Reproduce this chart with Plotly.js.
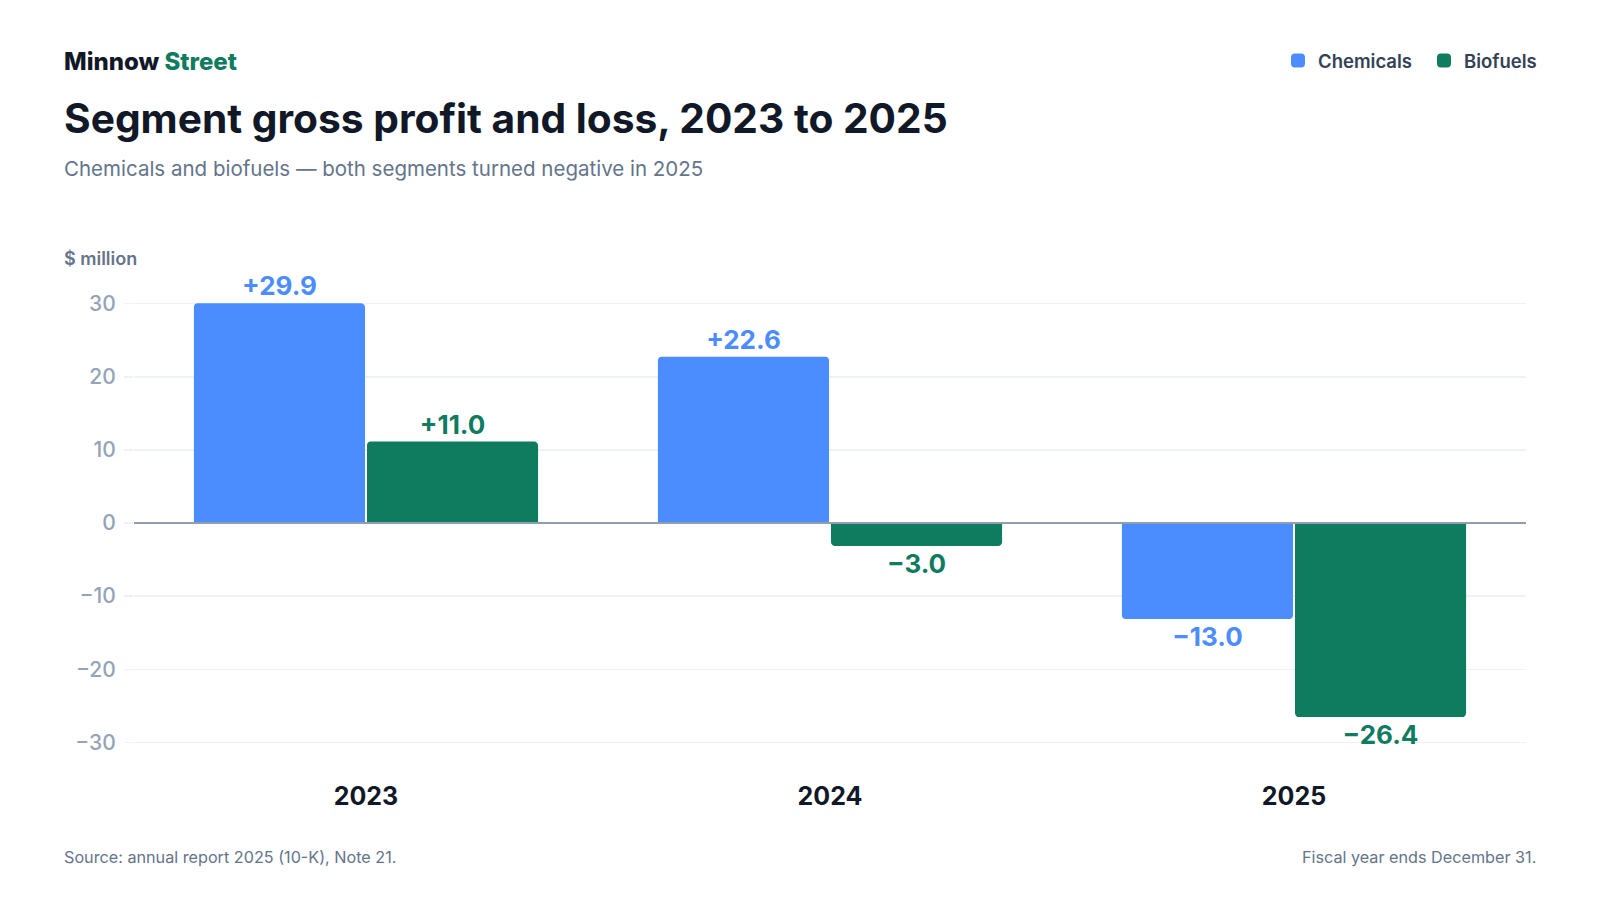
<!DOCTYPE html>
<html>
<head>
<meta charset="utf-8">
<script src="https://cdn.plot.ly/plotly-3.0.1.min.js"></script>
<style>
  html, body { margin: 0; padding: 0; background: #ffffff; }
  #chart { width: 1600px; height: 900px; }
</style>
</head>
<body>
<div id="chart"></div>
<script>
// data
const years = ["2023", "2024", "2025"];
const chemicals = [29.9, 22.6, -13.0];
const biofuels = [11.0, -3.0, -26.4];
const yTicks = [-30, -20, -10, 0, 10, 20, 30];

const blue = "#4b8dff";
const green = "#0f7b5f";

// "+29.9" / "−13.0" style labels
function signed(v) {
  return (v > 0 ? "+" : "\u2212") + Math.abs(v).toFixed(1);
}

// plot area in px, used to place the header and footer texts
const W = 1600, H = 900;
const M = { l: 134, r: 74, t: 289, b: 143 };
function px(x) { return (x - M.l) / (W - M.l - M.r); }
function py(y) { return (H - M.b - y) / (H - M.t - M.b); }

// thin outline in the bar colour, mostly so the legend swatch is a bit bigger
var trace1 = {
  type: "bar",
  name: "Chemicals",
  x: years,
  y: chemicals,
  text: chemicals.map(signed),
  textposition: "outside",
  cliponaxis: false,
  textfont: { family: "Inter", size: 26, weight: 700, color: blue },
  marker: { color: blue, line: { color: blue, width: 2 } },
  hoverinfo: "none"
};

var trace2 = {
  type: "bar",
  name: "Biofuels",
  x: years,
  y: biofuels,
  text: biofuels.map(signed),
  textposition: "outside",
  cliponaxis: false,
  textfont: { family: "Inter", size: 26, weight: 700, color: green },
  marker: { color: green, line: { color: green, width: 2 } },
  hoverinfo: "none"
};

var layout = {
  width: W,
  height: H,
  margin: M,
  paper_bgcolor: "#ffffff",
  plot_bgcolor: "#ffffff",
  font: { family: "Inter", color: "#111827" },
  barmode: "group",
  bargap: 0.254,
  bargroupgap: 0.023,
  barcornerradius: 3,
  showlegend: true,
  legend: {
    orientation: "h",
    // entrywidth pads the last item too, so the anchor sits past the text end
    x: px(1570),
    xanchor: "right",
    y: py(61),
    yanchor: "middle",
    entrywidth: 101,
    font: { family: "Inter", size: 18.5, weight: 600, color: "#334155" },
    itemclick: false,
    itemdoubleclick: false
  },
  title: {
    text: "Segment gross profit and loss, 2023 to 2025",
    xref: "container",
    yref: "container",
    x: 64 / W,
    xanchor: "left",
    y: 1 - 119 / H,
    yanchor: "middle",
    font: { family: "Inter", size: 40.7, weight: 700, color: "#111827" }
  },
  xaxis: {
    type: "category",
    showgrid: false,
    showline: false,
    ticks: "",
    ticklabelstandoff: 22,
    tickfont: { family: "Inter", size: 25, weight: 700, color: "#111827" },
    fixedrange: true
  },
  yaxis: {
    range: [-32, 32],
    tickvals: yTicks,
    showgrid: true,
    gridcolor: "#eef1f5",
    gridwidth: 1.5,
    zeroline: true,
    zerolinecolor: "#939db0",
    zerolinewidth: 1.5,
    zerolinelayer: "above traces",
    ticks: "outside",
    ticklen: 9,
    tickcolor: "#eef1f5",
    tickwidth: 1.5,
    ticklabelstandoff: 4,
    tickfont: { family: "Inter", size: 21, weight: 500, color: "#94a3b8" },
    fixedrange: true
  },
  annotations: [
    {
      text: "Minnow <span style='color:" + green + "'>Street</span>",
      xref: "paper", yref: "paper",
      x: px(62), y: py(62), xanchor: "left", yanchor: "middle",
      showarrow: false,
      font: { family: "Inter", size: 24, weight: 800, color: "#111827" }
    },
    {
      text: "Chemicals and biofuels \u2014 both segments turned negative in 2025",
      xref: "paper", yref: "paper",
      x: px(62), y: py(168), xanchor: "left", yanchor: "middle",
      showarrow: false,
      font: { family: "Inter", size: 20.5, color: "#64748b" }
    },
    {
      text: "$ million",
      xref: "paper", yref: "paper",
      x: px(62), y: py(258), xanchor: "left", yanchor: "middle",
      showarrow: false,
      font: { family: "Inter", size: 18, weight: 600, color: "#64748b" }
    },
    {
      text: "Source: annual report 2025 (10-K), Note 21.",
      xref: "paper", yref: "paper",
      x: px(62), y: py(857), xanchor: "left", yanchor: "middle",
      showarrow: false,
      font: { family: "Inter", size: 16.2, color: "#64748b" }
    },
    {
      text: "Fiscal year ends December 31.",
      xref: "paper", yref: "paper",
      x: px(1538), y: py(857), xanchor: "right", yanchor: "middle",
      showarrow: false,
      font: { family: "Inter", size: 16.2, color: "#64748b" }
    }
  ]
};

Plotly.newPlot("chart", [trace1, trace2], layout, { displayModeBar: false, staticPlot: true });
</script>
</body>
</html>
